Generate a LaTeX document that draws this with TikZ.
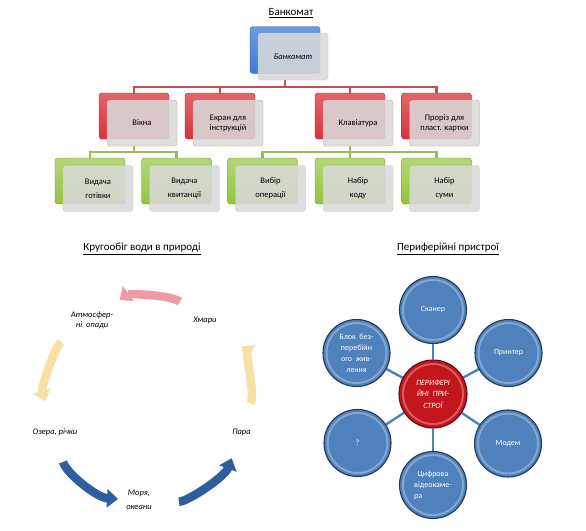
\documentclass[tikz,border=0pt]{standalone}
\usepackage{fontspec}
\setmainfont{Carlito}
\usetikzlibrary{arrows.meta}
\usetikzlibrary{shadows, backgrounds}

\definecolor{rootblue}{HTML}{3B7DD0}
\definecolor{rootblueline}{HTML}{2A62AE}
\definecolor{boxred}{HTML}{D8333B}
\definecolor{boxredline}{HTML}{A81E25}
\definecolor{boxgreen}{HTML}{93C43F}
\definecolor{boxgreenline}{HTML}{6E9A2B}
\definecolor{frontgrey}{HTML}{D9D9D9}
\definecolor{linkred}{HTML}{C0504D}
\definecolor{linkgreen}{HTML}{9BBB59}
\definecolor{arrpink}{HTML}{EC9CA2}
\definecolor{arryellow}{HTML}{F8E0A4}
\definecolor{arrblue}{HTML}{2F5E9E}
\definecolor{ballblue}{HTML}{4F81BD}
\definecolor{ballblueline}{HTML}{22395A}
\definecolor{ballred}{HTML}{C3161C}
\definecolor{ballredline}{HTML}{5C0A0D}

\begin{document}
\begin{tikzpicture}[>=latex,line join=bevel,x=1pt,y=-1pt,
  title/.style={font=\fontsize{11}{13}\selectfont},
  frontbox/.style={draw, rounded corners=3pt, fill=frontgrey, fill opacity=0.88,
    text opacity=1, minimum width=70pt, minimum height=46pt, align=center,
    inner sep=2pt, font=\fontsize{8.5}{10}\selectfont},
  rootbox/.style={frontbox, draw=rootblue!45, minimum height=47pt,
    general shadow={shadow xshift=-8pt, shadow yshift=6.5pt, fill opacity=1,
      top color=rootblue!75!white, bottom color=rootblue, draw=rootblueline}},
  redbox/.style={frontbox, draw=boxred!55,
    general shadow={shadow xshift=-8pt, shadow yshift=7pt, fill opacity=1,
      top color=boxred!75!white, bottom color=boxred, draw=boxredline}},
  greenbox/.style={frontbox, draw=boxgreen!60,
    general shadow={shadow xshift=-8pt, shadow yshift=7.5pt, fill opacity=1,
      top color=boxgreen!70!white, bottom color=boxgreen, draw=boxgreenline}},
  redlink/.style={draw=linkred, line width=2.2pt, line join=miter},
  greenlink/.style={draw=linkgreen, line width=2.2pt, line join=miter},
  cyclelabel/.style={font=\fontsize{8.5}{10}\itshape, align=center, inner sep=1pt},
  cyclearrow/.style={line width=8.5pt, -{Triangle[length=11pt,width=18pt]}},
  ball/.style={circle, draw=ballblueline, line width=1.1pt, fill=ballblue,
    minimum size=67pt, inner sep=1pt, text=white, align=center,
    font=\fontsize{8}{11}\selectfont,
    path picture={\draw[white, opacity=0.3, line width=2pt]
      (path picture bounding box.center) circle (30pt);}},
  spoke/.style={draw=ballblue, line width=2.4pt},
]
\useasboundingbox (0,0) rectangle (586,530);
%%
\node (node_title1) at (291,13) [title] {\underline{Банкомат}};
\node (node_root) at (293,56.5) [rootbox] {\itshape Банкомат};
\node (node_vikna) at (142,123) [redbox] {Вікна};
\node (node_ekran) at (228,123) [redbox] {Екран для\\інструкцій};
\node (node_klav) at (358,123) [redbox] {Клавіатура};
\node (node_proriz) at (444.5,123) [redbox] {Проріз для\\пласт. картки};
\node (node_gotivka) at (98,188.5) [greenbox] {Видача\\[4pt]готівки};
\node (node_kvyt) at (184.5,188.5) [greenbox] {Видача\\[4pt]квитанції};
\node (node_vybir) at (270.5,188.5) [greenbox] {Вибір\\[4pt]операції};
\node (node_kod) at (358,188.5) [greenbox] {Набір\\[4pt]коду};
\node (node_suma) at (444.5,188.5) [greenbox] {Набір\\[4pt]суми};
\begin{scope}[on background layer]
  \foreach \c in {node_vikna,node_ekran,node_klav,node_proriz}
    \draw [redlink] ([xshift=-8pt]node_root.south) -- ++(0,7) -| ([xshift=-8pt]\c.north);
  \foreach \c in {node_gotivka,node_kvyt}
    \draw [greenlink] ([xshift=-8pt]node_vikna.south) -- ++(0,5.5) -| ([xshift=-8pt]\c.north);
  \foreach \c in {node_vybir,node_kod,node_suma}
    \draw [greenlink] ([xshift=-8pt]node_klav.south) -- ++(0,5.5) -| ([xshift=-8pt]\c.north);
\end{scope}
%
\node (node_title2) at (142,249) [title] {\underline{Кругообіг води в природі}};
\node (node_hmary) at (205,320) [cyclelabel] {Хмари};
\node (node_atmo) at (92,320) [cyclelabel] {Атмосфер-\\ні\ \ опади};
\node (node_ozera) at (55,432) [cyclelabel] {Озера, річки};
\node (node_morya) at (139,500) [cyclelabel] {Моря,\\[4pt]океани};
\node (node_para) at (241.5,432) [cyclelabel] {Пара};
\draw [cyclearrow, arrpink, shorten <=31pt, shorten >=34pt] (node_hmary.center) to[bend right=36] (node_atmo.center);
\draw [cyclearrow, arryellow, shorten <=38pt, shorten >=32pt] (node_atmo.center) to[bend right=36] (node_ozera.center);
\draw [cyclearrow, arrblue, shorten <=31pt, shorten >=21pt] (node_ozera.center) to[bend right=36] (node_morya.center);
\draw [cyclearrow, arrblue, shorten <=40pt, shorten >=28pt] (node_morya.center) to[bend right=36] (node_para.center);
\draw [cyclearrow, arryellow, shorten <=30pt, shorten >=45pt] (node_para.center) to[bend right=36] (node_hmary.center);
%
\node (node_title3) at (448,249) [title] {\underline{Периферійні пристрої}};
\node (node_center) at (433,394) [ball, fill=ballred, draw=ballredline, minimum size=68pt,
  font=\fontsize{8}{11.5}\itshape] {ПЕРИФЕРІ\\ЙНІ\ \ ПРИ-\\СТРОЇ};
\node (node_skaner) at (433,310) [ball] {Сканер};
\node (node_printer) at (508.5,353) [ball] {Принтер};
\node (node_modem) at (508,443.5) [ball] {Модем};
\node (node_camera) at (433,485) [ball, align=left] {\ \ Цифрова\\відеокаме-\\ра};
\node (node_unknown) at (357.5,443) [ball] {?};
\node (node_ups) at (356.5,353) [ball] {Блок\ \ без-\\перебійн\\ого\ \ жив-\\лення};
\begin{scope}[on background layer]
  \foreach \c in {node_skaner,node_printer,node_modem,node_camera,node_unknown,node_ups}
    \draw [spoke] (node_center) -- (\c);
\end{scope}
%
\end{tikzpicture}
\end{document}
